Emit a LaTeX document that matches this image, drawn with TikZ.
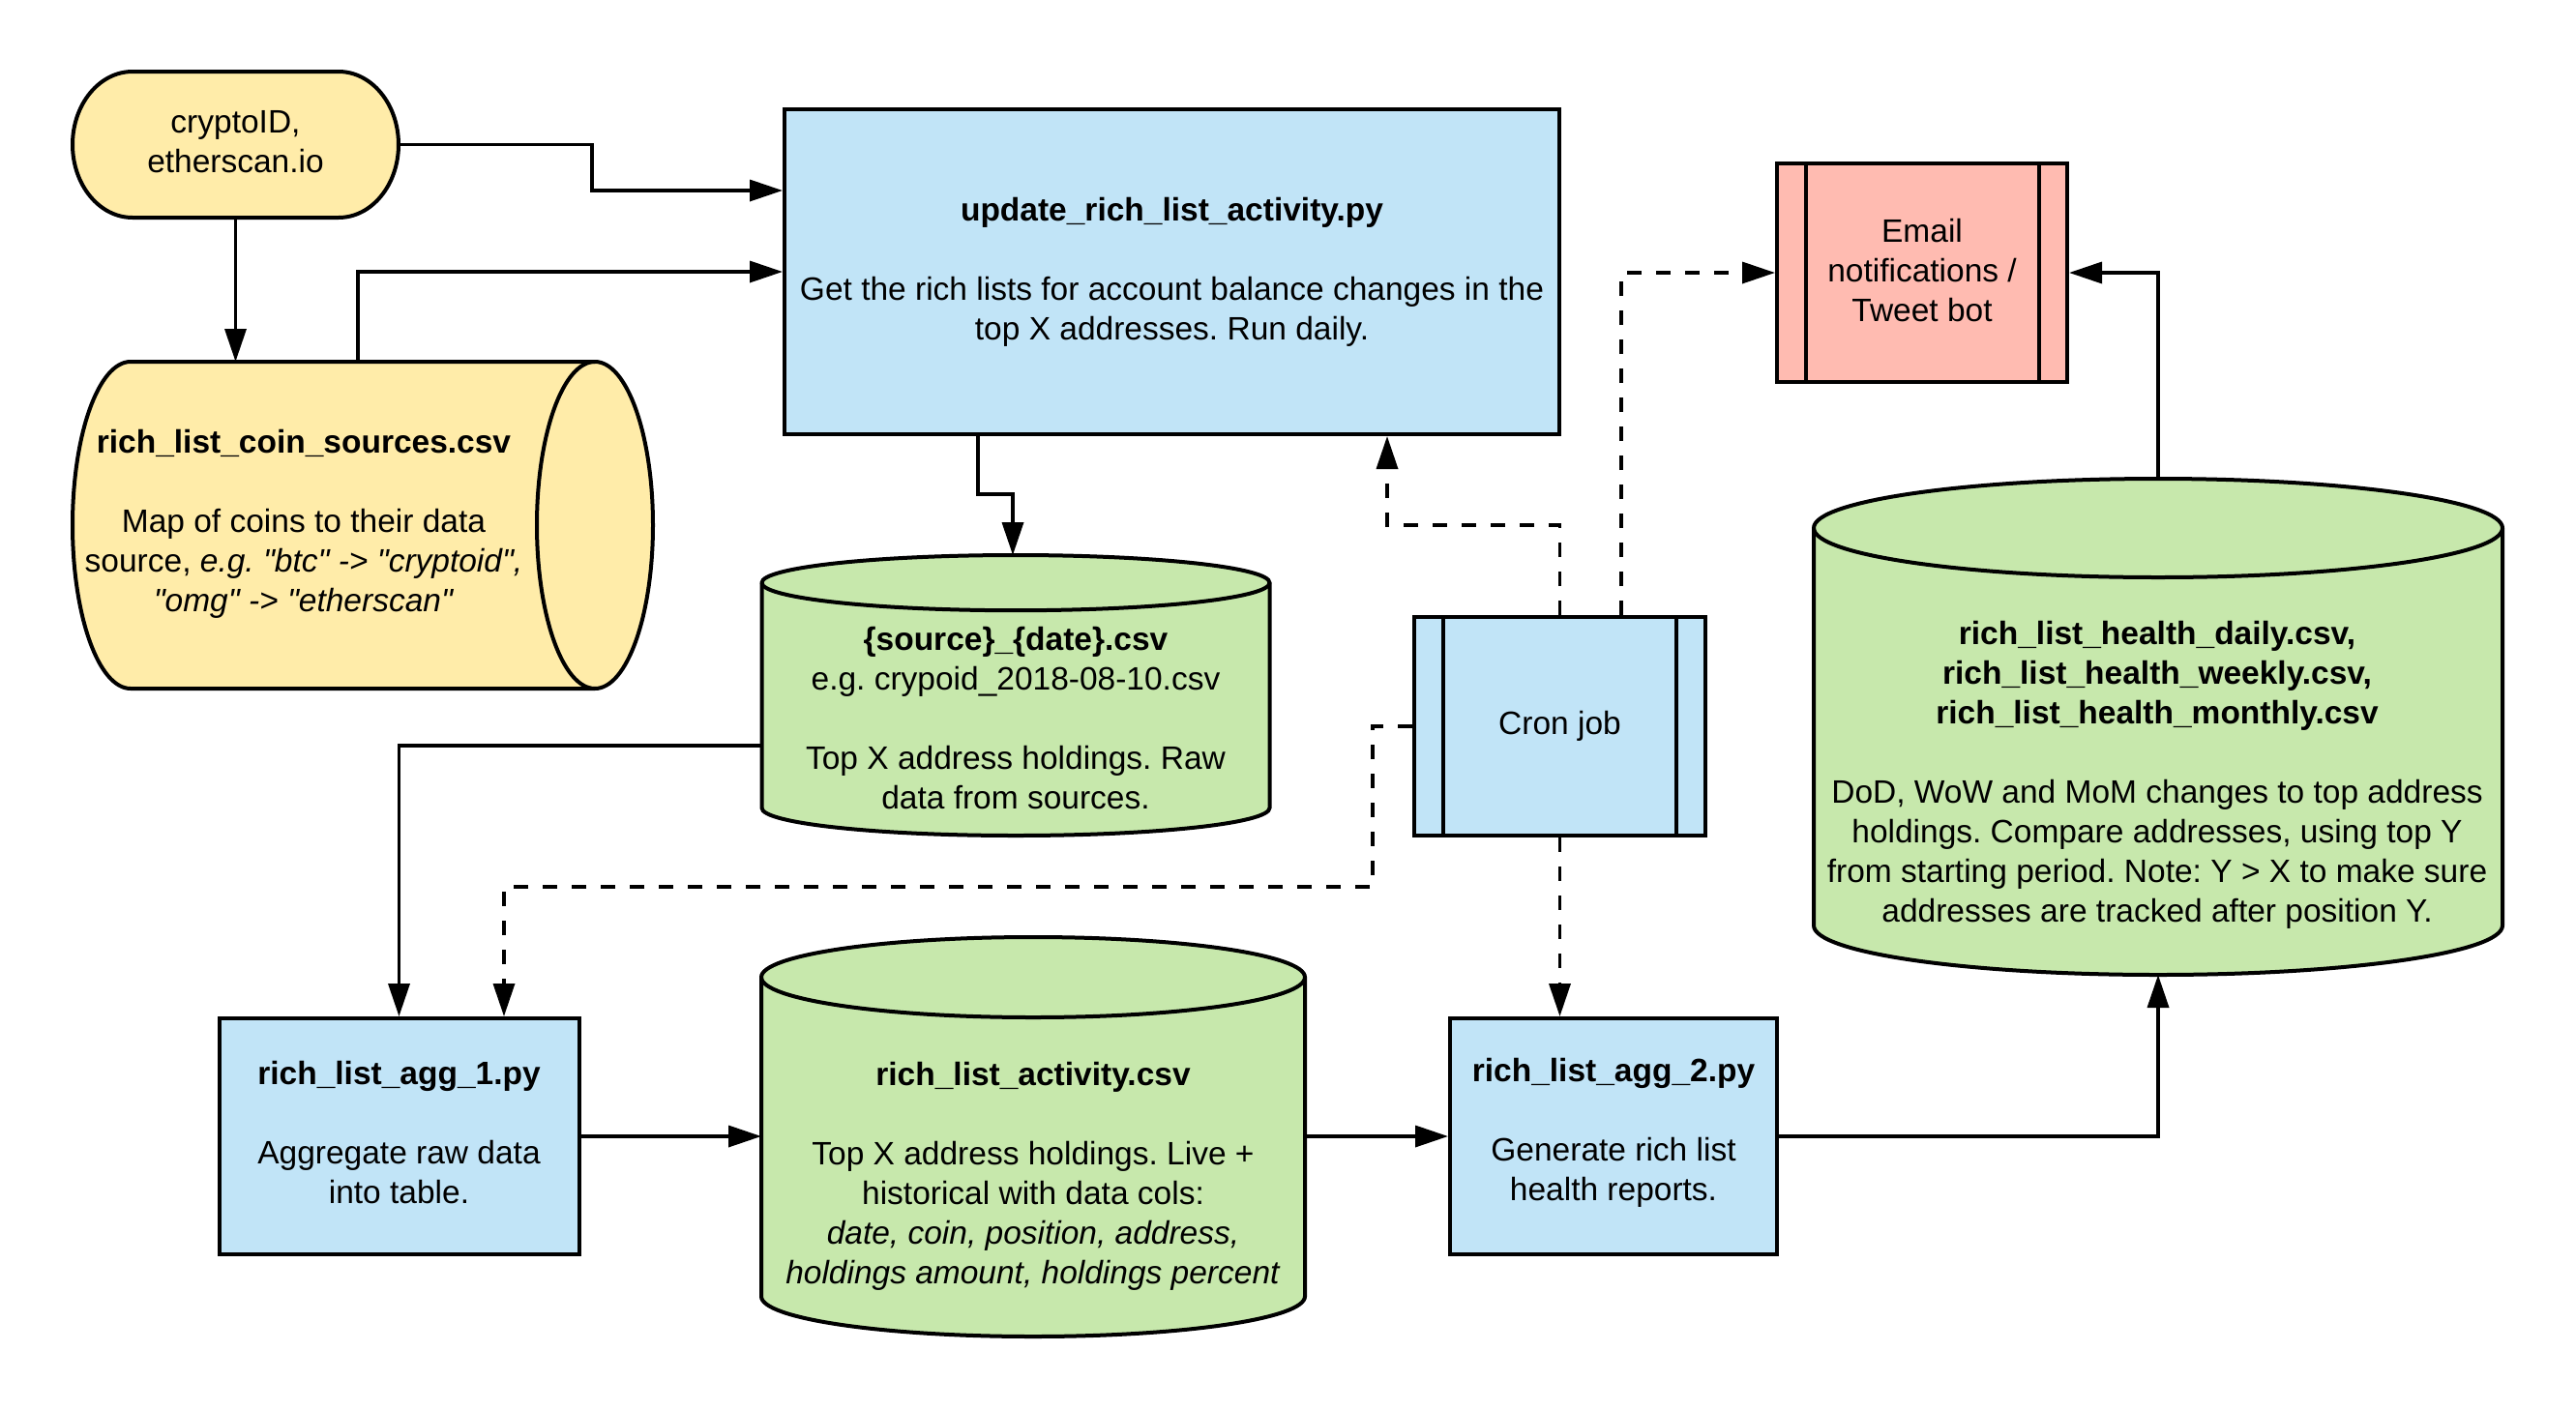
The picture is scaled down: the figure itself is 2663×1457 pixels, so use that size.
\documentclass[tikz,border=0pt]{standalone}
\usepackage{fontspec}
\setmainfont{Liberation Sans}
\usetikzlibrary{arrows.meta,calc}
\definecolor{cyellow}{HTML}{FFECA9}
\definecolor{cblue}{HTML}{C1E4F7}
\definecolor{cgreen}{HTML}{C7E8AC}
\definecolor{cpink}{HTML}{FFBBB1}
\newcommand{\qq}{\textquotedbl}
\frenchspacing
\begin{document}
\begin{tikzpicture}[x=1pt,y=-1pt,
  conn/.style={line width=3.5pt,-{Triangle[length=34pt,width=22pt]}},
  dconn/.style={conn,dash pattern=on 15pt off 15pt},
  shp/.style={draw=black,line width=4pt},
  txt/.style={font=\fontsize{33.5}{41}\selectfont\frenchspacing,align=center,inner sep=0pt,outer sep=0pt},
  area/.style={draw=none,inner sep=0pt,outer sep=0pt},
  box/.style={shp,txt,outer sep=2pt,fill=cblue},
]
\fill[white] (0,0) rectangle (2663,1457);
\useasboundingbox (0,0) rectangle (2663,1457);

% terminal
\node[area,minimum width=337pt,minimum height=151pt] (src) at (243.5,149.5) {};
\path[shp,fill=cyellow] ($(src.north west)+(62,0)$) -- ($(src.north east)+(-62,0)$)
  arc[start angle=90,end angle=-90,x radius=62pt,y radius=75.5pt]
  -- ($(src.south west)+(62,0)$)
  arc[start angle=270,end angle=90,x radius=62pt,y radius=75.5pt] -- cycle;
\node[txt] (srct) at (243.5,147) {cryptoID,\\etherscan.io};

% coin sources (horizontal cylinder)
\node[area,minimum width=600pt,minimum height=338pt] (coin) at (375,543) {};
\path[shp,fill=cyellow] ($(coin.north west)+(60,0)$) -- ($(coin.north east)+(-60,0)$)
  arc[start angle=90,end angle=-90,x radius=60pt,y radius=169pt]
  -- ($(coin.south west)+(60,0)$)
  arc[start angle=270,end angle=90,x radius=60pt,y radius=169pt] -- cycle;
\draw[shp] ($(coin.north east)+(-60,0)$) arc[start angle=90,end angle=270,x radius=60pt,y radius=169pt];
\node[txt] (coint) at (314,542) {\textbf{rich\_list\_coin\_sources.csv}\\[41pt]Map of coins to their data\\source, \textit{e.g. \qq btc\qq\ -> \qq cryptoid\qq,}\\\textit{\qq omg\qq\ -> \qq etherscan\qq}};

% update box
\node[box,minimum width=801pt,minimum height=336pt] (upd) at (1211.5,281) {\textbf{update\_rich\_list\_activity.py}\\[41pt]Get the rich lists for account balance changes in the\\top X addresses. Run daily.};

% source/date cylinder
\node[area,minimum width=525pt,minimum height=290pt] (scsv) at (1050,719) {};
\path[shp,fill=cgreen] ($(scsv.north west)+(0,28.6)$) -- ($(scsv.south west)+(0,-28.6)$)
  arc[start angle=180,end angle=360,x radius=262.5pt,y radius=28.6pt]
  -- ($(scsv.north east)+(0,28.6)$)
  arc[start angle=0,end angle=180,x radius=262.5pt,y radius=28.6pt] -- cycle;
\draw[shp] ($(scsv.north west)+(0,28.6)$) arc[start angle=180,end angle=360,x radius=262.5pt,y radius=28.6pt];
\node[txt] (scsvt) at (1050,743) {\textbf{\{source\}\_\{date\}.csv}\\e.g. crypoid\_2018-08-10.csv\\[41pt]Top X address holdings. Raw\\data from sources.};

% cron job
\node[box,minimum width=301pt,minimum height=226pt] (cron) at (1612.5,751) {Cron job};
\draw[shp] ($(cron.north west)+(32,2)$) -- ($(cron.south west)+(32,-2)$);
\draw[shp] ($(cron.north east)+(-32,2)$) -- ($(cron.south east)+(-32,-2)$);

% email
\node[box,fill=cpink,minimum width=300pt,minimum height=226pt] (email) at (1987,282) {};
\draw[shp] ($(email.north west)+(32,2)$) -- ($(email.south west)+(32,-2)$);
\draw[shp] ($(email.north east)+(-31,2)$) -- ($(email.south east)+(-31,-2)$);
\node[txt] (emailt) at (1987,279.5) {Email\\notifications /\\Tweet bot};

% health cylinder
\node[area,minimum width=712pt,minimum height=513pt] (hlth) at (2231,751.5) {};
\path[shp,fill=cgreen] ($(hlth.north west)+(0,51)$) -- ($(hlth.south west)+(0,-51)$)
  arc[start angle=180,end angle=360,x radius=356pt,y radius=51pt]
  -- ($(hlth.north east)+(0,51)$)
  arc[start angle=0,end angle=180,x radius=356pt,y radius=51pt] -- cycle;
\draw[shp] ($(hlth.north west)+(0,51)$) arc[start angle=180,end angle=360,x radius=356pt,y radius=51pt];
\node[txt] (hltht) at (2230,801) {\textbf{rich\_list\_health\_daily.csv,}\\\textbf{rich\_list\_health\_weekly.csv,}\\\textbf{rich\_list\_health\_monthly.csv}\\[41pt]DoD, WoW and MoM changes to top address\\holdings. Compare addresses, using top Y\\from starting period. Note: Y > X to make sure\\addresses are tracked after position Y.};

% agg 1
\node[box,minimum width=372pt,minimum height=244pt] (agg1) at (412.5,1175) {};
\node[txt] (agg1t) at (412.5,1171) {\textbf{rich\_list\_agg\_1.py}\\[41pt]Aggregate raw data\\into table.};

% activity cylinder
\node[area,minimum width=562pt,minimum height=413pt] (act) at (1068,1175.5) {};
\path[shp,fill=cgreen] ($(act.north west)+(0,41.5)$) -- ($(act.south west)+(0,-41.5)$)
  arc[start angle=180,end angle=360,x radius=281pt,y radius=41.5pt]
  -- ($(act.north east)+(0,41.5)$)
  arc[start angle=0,end angle=180,x radius=281pt,y radius=41.5pt] -- cycle;
\draw[shp] ($(act.north west)+(0,41.5)$) arc[start angle=180,end angle=360,x radius=281pt,y radius=41.5pt];
\node[txt] (actt) at (1068,1216) {\textbf{rich\_list\_activity.csv}\\[41pt]Top X address holdings. Live +\\historical with data cols:\\\textit{date, coin, position, address,}\\\textit{holdings amount, holdings percent}};

% agg 2
\node[box,minimum width=338pt,minimum height=244pt] (agg2) at (1668,1175) {};
\node[txt] (agg2t) at (1668,1171) {\textbf{rich\_list\_agg\_2.py}\\[41pt]Generate rich list\\health reports.};

% solid connectors
\draw[conn] (src.south) -- (coin.north -| src.south);
\draw[conn] (src.east) -| (612,197) -- (upd.west |- 0,197);
\draw[conn] (coin.north -| 370,0) |- (upd.west);
\draw[conn] (upd.south -| 1011,0) |- (1047,511) -- (scsv.north -| 1047,0);
\draw[conn] (scsv.west |- 0,771) -| (agg1.north);
\draw[conn] (agg1.east) -- (act.west |- agg1.east);
\draw[conn] (act.east |- agg2.west) -- (agg2.west);
\draw[conn] (agg2.east) -| (hlth.south);
\draw[conn] (hlth.north) |- (email.east);

% dashed connectors
\draw[dconn] (cron.north -| 1676,0) |- (email.west);
\draw[dconn] (cron.north) -- (cron.north |- 0,543) -| (upd.south -| 1434,0);
\draw[dconn] (cron.west) -| (1419,917) -| (agg1.north -| 521,0);
\draw[dconn] (cron.south) -- (agg2.north -| cron.south);
\end{tikzpicture}
\end{document}
